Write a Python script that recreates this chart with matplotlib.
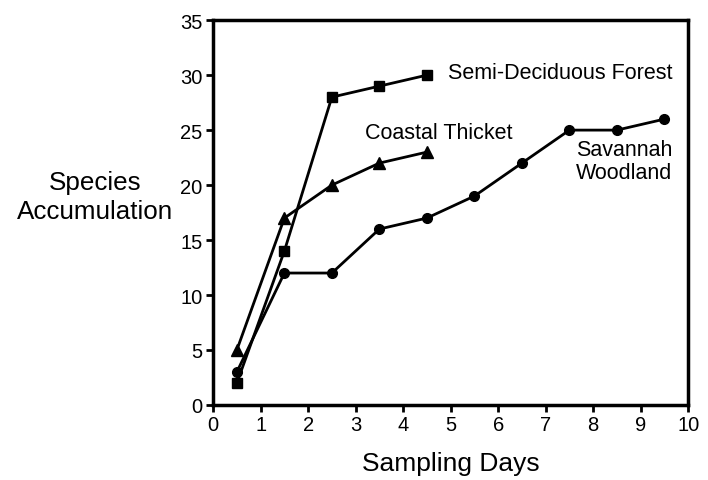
import matplotlib
matplotlib.use('Agg')
import matplotlib.pyplot as plt

plt.rcParams['font.family'] = ['Liberation Sans', 'DejaVu Sans']

days_short = [0.5, 1.5, 2.5, 3.5, 4.5]
days_long = [0.5, 1.5, 2.5, 3.5, 4.5, 5.5, 6.5, 7.5, 8.5, 9.5]
semi_deciduous = [2, 14, 28, 29, 30]
coastal_thicket = [5, 17, 20, 22, 23]
savannah = [3, 12, 12, 16, 17, 19, 22, 25, 25, 26]

fig = plt.figure(figsize=(7.08, 4.81), dpi=100)
ax = fig.add_axes([0.301, 0.156, 0.671, 0.800])

ax.plot(days_long, savannah, color='black', lw=2, marker='o', ms=7)
ax.plot(days_short, semi_deciduous, color='black', lw=2, marker='s', ms=7.5)
ax.plot(days_short, coastal_thicket, color='black', lw=2, marker='^', ms=9)

ax.set_xlim(0, 10)
ax.set_ylim(0, 35)
ax.set_xticks(range(0, 11))
ax.set_yticks(range(0, 36, 5))
ax.tick_params(labelsize=14.5, width=2, length=5, direction='out', pad=2.5)
for s in ax.spines.values():
    s.set_linewidth(2.5)

ax.set_xlabel('Sampling Days', fontsize=19, labelpad=12)
fig.text(0.134, 0.59, 'Species\nAccumulation', fontsize=18.7, ha='center', va='center',
         linespacing=1.25)

ax.text(4.95, 30.2, 'Semi-Deciduous Forest', fontsize=15.5, ha='left', va='center')
ax.text(3.2, 24.8, 'Coastal Thicket', fontsize=15.5, ha='left', va='center')
ax.text(8.65, 22.2, 'Savannah\nWoodland', fontsize=15.5, ha='center', va='center',
        linespacing=1.15)

fig.savefig('out.png', dpi=100)
